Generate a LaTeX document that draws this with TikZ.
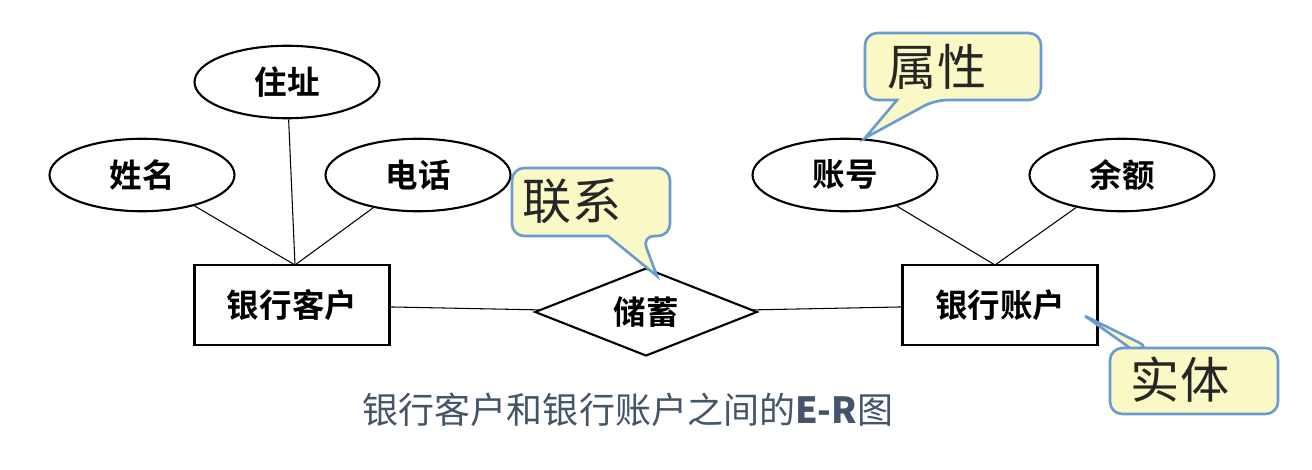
\documentclass[tikz,border=0pt]{standalone}
\usepackage{fontspec}
\newfontfamily\cjk{Noto Sans CJK SC}
\newfontfamily\cjkb{Noto Sans CJK SC Bold}
\usetikzlibrary{shapes.geometric}
\definecolor{cborder}{HTML}{6A9BD1}
\definecolor{cfill}{HTML}{FAF8C4}
\definecolor{ccap}{HTML}{44546A}
\begin{document}
\begin{tikzpicture}[x=0.02cm,y=-0.02cm,
  attr/.style={ellipse,draw,line width=1.2pt,minimum width=3.7cm,minimum height=1.45cm,inner sep=0pt,font=\cjkb\fontsize{18.5}{18.5}\selectfont},
  ent/.style={rectangle,draw,line width=1.2pt,minimum width=3.9cm,minimum height=1.6cm,font=\cjkb\fontsize{18.5}{18.5}\selectfont},
  rel/.style={diamond,draw,line width=1.2pt,minimum width=4.45cm,minimum height=1.76cm,aspect=2.5,inner sep=0pt,font=\cjkb\fontsize{18.5}{18.5}\selectfont},
  link/.style={line width=0.6pt},
  call/.style={draw=cborder,fill=cfill,line width=1.5pt,rounded corners=7pt},
  calltext/.style={font=\cjk\fontsize{28}{28}\selectfont,text=black!85}]
\useasboundingbox (0,0) rectangle (1312,470);
\fill[white] (0,0) rectangle (1312,470);
\node[attr] (zhuzhi) at (287,82) {住址};
\node[attr] (xingming) at (142,175) {姓名};
\node[attr] (dianhua) at (418,175) {电话};
\node[ent] (kehu) at (292,305) {银行客户};
\node[rel] (chuxu) at (646,312) {储蓄};
\node[ent] (zhanghu) at (1000,305) {银行账户};
\node[attr] (zhanghao) at (845,175) {账号};
\node[attr] (yue) at (1122,175) {余额};
\coordinate (kt) at (295,265);
\coordinate (zt) at (995,265);
\draw[link] (xingming) -- (kt);
\draw[link] (zhuzhi) -- (kt);
\draw[link] (dianhua) -- (kt);
\draw[link] (zhanghao) -- (zt);
\draw[link] (yue) -- (zt);
\draw[link] (kehu) -- (chuxu);
\draw[link] (chuxu) -- (zhanghu);
% callouts
\draw[call] (865,33) -- (1041,33) -- (1041,100) -- (935,100) [sharp corners]-- (865,138) -- (897,100) [rounded corners=7pt]-- (865,100) -- cycle;
\node[calltext] (shuxing) at (937,67) {属性};
\draw[call] (512,168) -- (670,168) -- (670,236) -- (642,236) [sharp corners]-- (657,276) -- (608,236) [rounded corners=7pt]-- (512,236) -- cycle;
\node[calltext] (lianxi) at (572,201) {联系};
\draw[call] (1110,348) -- (1150,348) [sharp corners]-- (1085,316) -- (1130,348) [rounded corners=7pt]-- (1278,348) -- (1278,414) -- (1110,414) -- cycle;
\node[calltext] (shiti) at (1180,380) {实体};
\node[font=\cjk\fontsize{20.5}{20.5}\selectfont,text=ccap] (cap) at (628,410) {银行客户和银行账户之间的\textbf{E-R}图};
\end{tikzpicture}
\end{document}
